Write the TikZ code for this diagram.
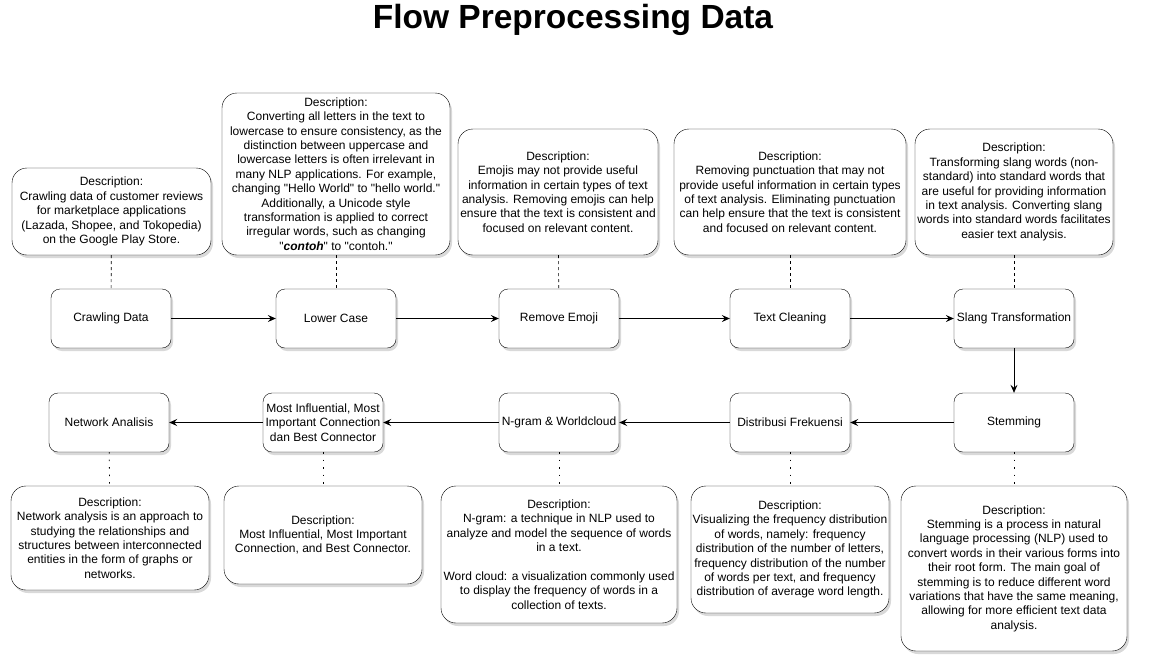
\documentclass[tikz,border=0pt]{standalone}
\usepackage{fontspec}
\setmainfont{Liberation Sans}
\usetikzlibrary{shadows,arrows.meta}

\begin{document}
\begin{tikzpicture}[x=1pt,y=-1pt,
  txt/.style={font=\fontsize{12}{14.4}\selectfont},
  proc/.style={txt,draw,rounded corners=9pt,minimum width=120pt,minimum height=59pt,
    inner sep=1pt,align=center,fill=white,
    drop shadow={opacity=0.3,shadow xshift=2pt,shadow yshift=-3pt}},
  desc/.style={txt,draw,rounded corners=15pt,inner sep=1pt,align=center,fill=white,
    drop shadow={opacity=0.3,shadow xshift=2pt,shadow yshift=-3pt}},
  flow/.style={-{Stealth[length=8pt,width=7pt,inset=3pt]},line width=0.8pt},
  link/.style={dashed,line width=0.6pt,dash pattern=on 3pt off 3pt},
  dotlink/.style={line width=0.8pt,dash pattern=on 1.5pt off 6pt}
]
\useasboundingbox (0,0) rectangle (1155,665);

% title
\node[font=\bfseries\fontsize{33.5}{36}\selectfont] (title) at (573,20) {Flow Preprocessing Data};

% top row
\node[proc] (crawl) at (111,318.5) {Crawling Data};
\node[proc] (lower) at (336,318.5) {Lower Case};
\node[proc] (emoji) at (559,318.5) {Remove Emoji};
\node[proc] (clean) at (790,318.5) {Text Cleaning};
\node[proc] (slang) at (1014,318.5) {Slang Transformation};

% bottom row
\node[proc] (network) at (109,422.5) {Network Analisis};
\node[proc] (influ) at (323,422.5) {Most Influential, Most\\Important Connection\\dan Best Connector};
\node[proc] (ngram) at (559,422.5) {N-gram \& Worldcloud};
\node[proc] (distri) at (790,422.5) {Distribusi Frekuensi};
\node[proc] (stem) at (1014,422.5) {Stemming};

% descriptions top
\node[desc,minimum width=199pt,minimum height=87pt] (dcrawl) at (111.5,211.5)
  {Description:\\Crawling data of customer reviews\\for marketplace applications\\(Lazada, Shopee, and Tokopedia)\\on the Google Play Store.};
\node[desc,minimum width=228pt,minimum height=162pt] (dlower) at (336,174)
  {Description:\\Converting all letters in the text to\\lowercase to ensure consistency, as the\\distinction between uppercase and\\lowercase letters is often irrelevant in\\many NLP applications. For example,\\changing \textquotedbl Hello World\textquotedbl{} to \textquotedbl hello world.\textquotedbl\\Additionally, a Unicode style\\transformation is applied to correct\\irregular words, such as changing\\\textquotedbl\textbf{\textit{contoh}}\textquotedbl{} to \textquotedbl contoh.\textquotedbl};
\node[desc,minimum width=200pt,minimum height=126pt] (demoji) at (558,192)
  {Description:\\Emojis may not provide useful\\information in certain types of text\\analysis. Removing emojis can help\\ensure that the text is consistent and\\focused on relevant content.};
\node[desc,minimum width=232pt,minimum height=126pt] (dclean) at (790,192)
  {Description:\\Removing punctuation that may not\\provide useful information in certain types\\of text analysis. Eliminating punctuation\\can help ensure that the text is consistent\\and focused on relevant content.};
\node[desc,minimum width=198pt,minimum height=126pt] (dslang) at (1014,192)
  {Description:\\Transforming slang words (non-\\standard) into standard words that\\are useful for providing information\\in text analysis. Converting slang\\words into standard words facilitates\\easier text analysis.};

% descriptions bottom
\node[desc,minimum width=198pt,minimum height=104pt] (dnetwork) at (110,538)
  {Description:\\Network analysis is an approach to\\studying the relationships and\\structures between interconnected\\entities in the form of graphs or\\networks.};
\node[desc,minimum width=198pt,minimum height=98pt] (dinflu) at (323,535)
  {Description:\\Most Influential, Most Important\\Connection, and Best Connector.};
\node[desc,minimum width=236pt,minimum height=137pt] (dngram) at (559,554.5)
  {Description:\\N-gram: a technique in NLP used to\\analyze and model the sequence of words\\in a text.\\[14.4pt]Word cloud: a visualization commonly used\\to display the frequency of words in a\\collection of texts.};
\node[desc,minimum width=198pt,minimum height=127pt] (ddistri) at (790,549.5)
  {Description:\\Visualizing the frequency distribution\\of words, namely: frequency\\distribution of the number of letters,\\frequency distribution of the number\\of words per text, and frequency\\distribution of average word length.};
\node[desc,minimum width=226pt,minimum height=165pt] (dstem) at (1014,568.5)
  {Description:\\Stemming is a process in natural\\language processing (NLP) used to\\convert words in their various forms into\\their root form. The main goal of\\stemming is to reduce different word\\variations that have the same meaning,\\allowing for more efficient text data\\analysis.};

% flow
\draw[flow] (crawl) -- (lower);
\draw[flow] (lower) -- (emoji);
\draw[flow] (emoji) -- (clean);
\draw[flow] (clean) -- (slang);
\draw[flow] (slang) -- (stem);
\draw[flow] (stem) -- (distri);
\draw[flow] (distri) -- (ngram);
\draw[flow] (ngram) -- (influ);
\draw[flow] (influ) -- (network);

% description links
\draw[link] (dcrawl) -- (crawl);
\draw[link] (dlower) -- (lower);
\draw[link] (demoji) -- (emoji);
\draw[link] (dclean) -- (clean);
\draw[link] (dslang) -- (slang);
\draw[dotlink] (network) -- (dnetwork);
\draw[dotlink] (influ) -- (dinflu);
\draw[dotlink] (ngram) -- (dngram);
\draw[dotlink] (distri) -- (ddistri);
\draw[dotlink] (stem) -- (dstem);
\end{tikzpicture}
\end{document}
